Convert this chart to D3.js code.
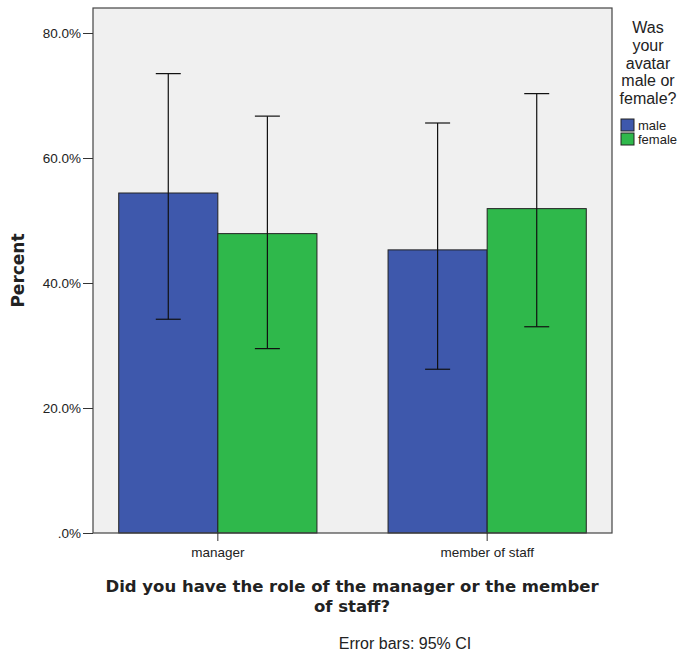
<!DOCTYPE html>
<html>
<head>
<meta charset="utf-8">
<script src="https://cdn.jsdelivr.net/npm/d3@7"></script>
<style>
  body { margin: 0; background: #fff; }
  svg text { font-family: "Liberation Sans", Arial, sans-serif; fill: #222; }
</style>
</head>
<body>
<div id="app"></div>
<script>
// data
const roles = ["manager", "member of staff"];
const genders = ["male", "female"];
const percent = [[54.4, 47.9], [45.3, 51.9]];
const ciLow = [[34.2, 29.5], [26.2, 33.0]];
const ciHigh = [[73.5, 66.7], [65.6, 70.3]];
const yTicks = [0, 20, 40, 60, 80];
const colors = ["#3e58ac", "#2fb84b"];

const width = 683, height = 655;
const plot = {left: 93, right: 612, top: 8, bottom: 533};

const svg = d3.select("#app")
    .append("svg")
    .attr("width", width)
    .attr("height", height);

const x = d3.scaleBand()
    .domain(roles)
    .range([plot.left, plot.right])
    .paddingInner(0.264)
    .paddingOuter(0.0955);

const xs = d3.scaleBand()
    .domain(genders)
    .range([0, x.bandwidth()]);

const y = d3.scaleLinear()
    .domain([0, 84])
    .range([plot.bottom, plot.top]);

// plot background
svg.append("rect")
    .attr("x", plot.left).attr("y", plot.top)
    .attr("width", plot.right - plot.left)
    .attr("height", plot.bottom - plot.top)
    .attr("fill", "#f0f0f0");

// bars
const rows = [];
roles.forEach((r, i) => genders.forEach((g, j) => rows.push({
    role: r, gender: g, j, v: percent[i][j], lo: ciLow[i][j], hi: ciHigh[i][j]
})));

svg.append("g")
    .selectAll("rect")
    .data(rows)
    .join("rect")
    .attr("x", d => x(d.role) + xs(d.gender))
    .attr("y", d => y(d.v))
    .attr("width", xs.bandwidth())
    .attr("height", d => y(0) - y(d.v))
    .attr("fill", d => colors[d.j])
    .attr("stroke", "#222")
    .attr("stroke-width", 1);

// error bars
const eb = svg.append("g")
    .attr("stroke", "#111")
    .attr("stroke-width", 1.2)
    .selectAll("g")
    .data(rows)
    .join("g")
    .attr("transform", d => `translate(${x(d.role) + xs(d.gender) + xs.bandwidth() / 2},0)`);
eb.append("line")
    .attr("y1", d => y(d.lo)).attr("y2", d => y(d.hi));
eb.append("line")
    .attr("x1", -12.5).attr("x2", 12.5)
    .attr("y1", d => y(d.hi)).attr("y2", d => y(d.hi));
eb.append("line")
    .attr("x1", -12.5).attr("x2", 12.5)
    .attr("y1", d => y(d.lo)).attr("y2", d => y(d.lo));

// frame
svg.append("rect")
    .attr("x", plot.left).attr("y", plot.top)
    .attr("width", plot.right - plot.left)
    .attr("height", plot.bottom - plot.top)
    .attr("fill", "none")
    .attr("stroke", "#444")
    .attr("stroke-width", 1.2);

// y axis
const yAxis = svg.append("g")
    .attr("transform", `translate(${plot.left},0)`)
    .call(d3.axisLeft(y)
        .tickValues(yTicks)
        .tickSize(10)
        .tickPadding(2)
        .tickFormat(d => d === 0 ? ".0%" : d3.format(".1f")(d) + "%"));
yAxis.select(".domain").remove();
yAxis.selectAll("line").attr("stroke", "#333");
yAxis.selectAll("text").attr("font-size", 13.5).style("font-family", "Liberation Sans, Arial, sans-serif").attr("fill", "#333");

// x axis
const xAxis = svg.append("g")
    .attr("transform", `translate(0,${plot.bottom})`)
    .call(d3.axisBottom(x).tickSize(8).tickPadding(6));
xAxis.select(".domain").remove();
xAxis.selectAll("line").attr("stroke", "#333");
xAxis.selectAll("text").attr("font-size", 13.5).style("font-family", "Liberation Sans, Arial, sans-serif").attr("fill", "#333");

// axis titles
svg.append("text")
    .attr("transform", `translate(24,${(plot.top + plot.bottom) / 2}) rotate(-90)`)
    .attr("text-anchor", "middle")
    .attr("font-size", 17)
    .attr("font-weight", "bold")
    .style("font-family", "DejaVu Sans, sans-serif")
    .attr("fill", "#111")
    .text("Percent");

const xTitle = svg.append("text")
    .attr("text-anchor", "middle")
    .attr("font-size", 16.5)
    .attr("font-weight", "bold")
    .style("font-family", "DejaVu Sans, sans-serif")
    .attr("fill", "#111");
xTitle.append("tspan").attr("x", 352).attr("y", 592)
    .text("Did you have the role of the manager or the member");
xTitle.append("tspan").attr("x", 352).attr("y", 612)
    .text("of staff?");

svg.append("text")
    .attr("x", 405).attr("y", 649)
    .attr("text-anchor", "middle")
    .attr("font-size", 16)
    .attr("fill", "#333")
    .text("Error bars: 95% CI");

// legend
const legendTitle = ["Was", "your", "avatar", "male or", "female?"];
svg.append("g")
    .selectAll("text")
    .data(legendTitle)
    .join("text")
    .attr("x", 648)
    .attr("y", (d, i) => 33 + i * 17.8)
    .attr("text-anchor", "middle")
    .attr("font-size", 16)
    .attr("fill", "#333")
    .text(d => d);

const leg = svg.append("g")
    .selectAll("g")
    .data(genders)
    .join("g")
    .attr("transform", (d, i) => `translate(621,${119 + i * 14})`);
leg.append("rect")
    .attr("width", 13).attr("height", 12)
    .attr("fill", (d, i) => colors[i])
    .attr("stroke", "#222");
leg.append("text")
    .attr("x", 17).attr("y", 10.5)
    .attr("font-size", 13)
    .text(d => d);
</script>
</body>
</html>
